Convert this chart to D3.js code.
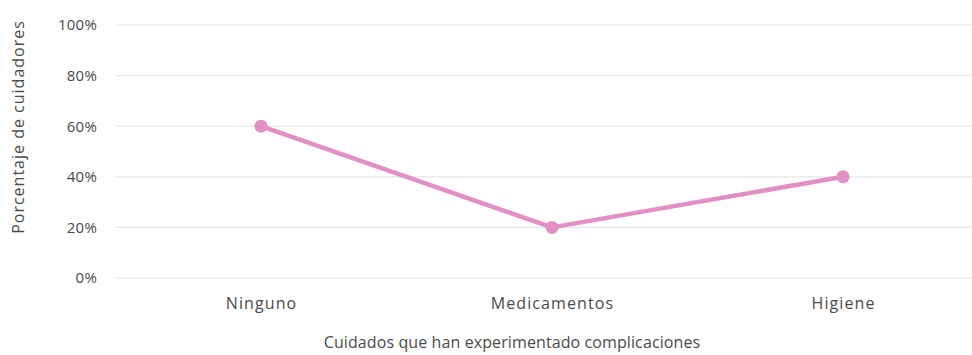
<!DOCTYPE html>
<html>
<head>
<meta charset="utf-8">
<script src="https://cdn.jsdelivr.net/npm/d3@7"></script>
<style>
  html, body { margin: 0; padding: 0; background: #fff; }
  svg { display: block; }
  text { font-family: "Open Sans", Lato, sans-serif; fill: #4a4a4a; font-weight: 500; }
</style>
</head>
<body>
<svg id="chart" width="972" height="355"></svg>
<script>
const categories = ["Ninguno", "Medicamentos", "Higiene"];
const values = [0.60, 0.20, 0.40];
const yTicks = [0, 0.2, 0.4, 0.6, 0.8, 1.0];

const svg = d3.select("#chart");
const margin = { left: 115.5, right: -16.5, top: 25, bottom: 77 };
const W = 972, H = 355;

const x = d3.scalePoint()
  .domain(categories)
  .range([margin.left, W - margin.right])
  .padding(0.5);

const y = d3.scaleLinear()
  .domain([0, 1])
  .range([H - margin.bottom, margin.top]);

// horizontal gridlines
svg.append("g")
  .selectAll("line")
  .data(yTicks)
  .join("line")
  .attr("x1", margin.left)
  .attr("x2", W)
  .attr("y1", d => y(d))
  .attr("y2", d => y(d))
  .attr("stroke", "#e6e6e6")
  .attr("stroke-width", 1.2);

// y axis labels
const yAxis = d3.axisLeft(y)
  .tickValues(yTicks)
  .tickFormat(d3.format(".0%"))
  .tickSize(0)
  .tickPadding(0);
svg.append("g")
  .attr("transform", `translate(97,0)`)
  .call(yAxis)
  .call(g => g.select(".domain").remove())
  .selectAll("text")
  .style("font-family", "'Open Sans', sans-serif")
  .style("font-weight", "500")
  .style("font-size", "15px")
  .style("letter-spacing", "0.2px")
  .style("fill", "#4a4a4a");

// x axis labels
const xAxis = d3.axisBottom(x).tickSize(0).tickPadding(0);
svg.append("g")
  .attr("transform", `translate(0,${y(0) + 20})`)
  .call(xAxis)
  .call(g => g.select(".domain").remove())
  .selectAll("text")
  .style("font-family", "'Open Sans', sans-serif")
  .style("font-weight", "500")
  .style("font-size", "16px")
  .style("letter-spacing", "1.1px")
  .style("fill", "#4a4a4a");

// axis titles
svg.append("text")
  .attr("x", 512)
  .attr("y", 348)
  .attr("text-anchor", "middle")
  .style("font-size", "16px")
  .style("letter-spacing", "0.1px")
  .text("Cuidados que han experimentado complicaciones");

svg.append("text")
  .attr("transform", `translate(24,127) rotate(-90)`)
  .attr("text-anchor", "middle")
  .style("font-size", "16px")
  .style("letter-spacing", "1.0px")
  .text("Porcentaje de cuidadores");

// data line
const line = d3.line()
  .x((d, i) => x(categories[i]))
  .y(d => y(d));

svg.append("path")
  .datum(values)
  .attr("d", line)
  .attr("fill", "none")
  .attr("stroke", "#e18fc4")
  .attr("stroke-width", 4.5)
  .attr("stroke-linejoin", "round");

svg.append("g")
  .selectAll("circle")
  .data(values)
  .join("circle")
  .attr("cx", (d, i) => x(categories[i]))
  .attr("cy", d => y(d))
  .attr("r", 6.5)
  .attr("fill", "#e18fc4");
</script>
</body>
</html>
